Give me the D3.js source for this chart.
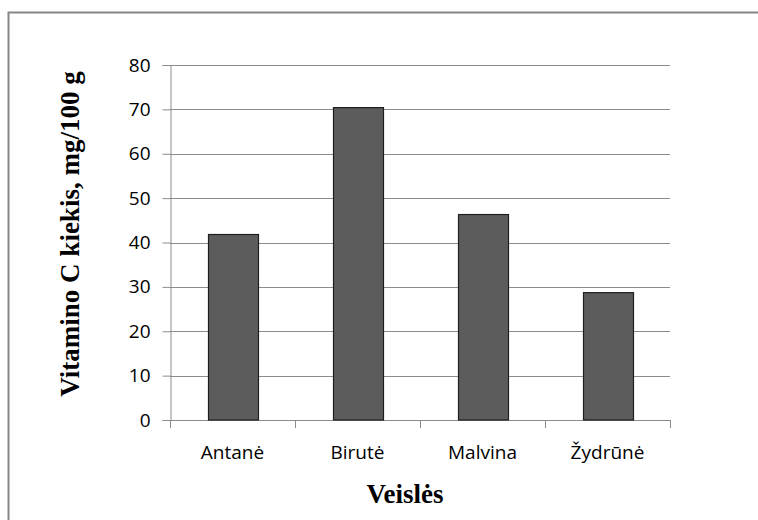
<!DOCTYPE html>
<html>
<head>
<meta charset="utf-8">
<script src="https://cdn.jsdelivr.net/npm/d3@7"></script>
<style>
  html, body { margin: 0; padding: 0; background: #fff; overflow: hidden; }
  svg { display: block; }
</style>
</head>
<body>
<svg id="chart" width="758" height="520"></svg>
<script>
// Vitamin C content by variety
const categories = ["Antanė", "Birutė", "Malvina", "Žydrūnė"];
const values = [41.8, 70.4, 46.3, 28.7];
const yTicks = [0, 10, 20, 30, 40, 50, 60, 70, 80];
const yTitle = "Vitamino C kiekis, mg/100 g";
const xTitle = "Veislės";

const svg = d3.select("#chart");
const margin = { left: 170, right: 88, top: 65, bottom: 100 };
const W = 758, H = 520;
const plotW = W - margin.left - margin.right;
const plotH = H - margin.top - margin.bottom;
const labelFont = "'Open Sans', sans-serif";
const titleFont = "'Liberation Serif', 'Times New Roman', serif";

// outer frame (runs past the right and bottom edges)
svg.append("rect")
  .attr("x", 8.5).attr("y", 12.5)
  .attr("width", 900).attr("height", 700)
  .attr("fill", "#fff").attr("stroke", "#868686").attr("stroke-width", 2);

const g = svg.append("g").attr("transform", `translate(${margin.left},${margin.top})`);

const x = d3.scaleBand().domain(categories).range([0, plotW]).paddingInner(0.6).paddingOuter(0.3);
const xBand = d3.scaleBand().domain(categories).range([0, plotW]);
const y = d3.scaleLinear().domain([0, 80]).range([plotH, 0]);

// gridlines
g.append("g").selectAll("line").data(yTicks.filter(d => d > 0)).join("line")
  .attr("x1", 0).attr("x2", plotW)
  .attr("y1", d => Math.round(y(d)) + 0.5).attr("y2", d => Math.round(y(d)) + 0.5)
  .attr("stroke", "#8c8c8c").attr("stroke-width", 1);

// y axis
const yAxis = g.append("g").attr("transform", "translate(0.5,0)")
  .call(d3.axisLeft(y).tickValues(yTicks).tickSize(8).tickPadding(12));
yAxis.select(".domain").attr("stroke", "#8c8c8c");
yAxis.selectAll(".tick line").attr("stroke", "#8c8c8c");
yAxis.selectAll(".tick text")
  .attr("font-family", labelFont).attr("font-size", 19).attr("fill", "#000");

// x axis with boundary ticks between categories
const xAxisG = g.append("g").attr("transform", `translate(0,${plotH})`);
xAxisG.append("line").attr("x1", 0).attr("x2", plotW).attr("y1", 0.5).attr("y2", 0.5)
  .attr("stroke", "#8c8c8c");
const boundaries = categories.map(c => xBand(c)).concat([plotW]);
xAxisG.selectAll("line.b").data(boundaries).join("line").attr("class", "b")
  .attr("x1", d => Math.round(d) + 0.5).attr("x2", d => Math.round(d) + 0.5)
  .attr("y1", 0).attr("y2", 8).attr("stroke", "#8c8c8c");
xAxisG.selectAll("text").data(categories).join("text")
  .attr("x", d => xBand(d) + xBand.bandwidth() / 2)
  .attr("y", 39)
  .attr("text-anchor", "middle")
  .attr("font-family", labelFont).attr("font-size", 19).attr("fill", "#000")
  .text(d => d);

// bars
g.append("g").selectAll("rect").data(values).join("rect")
  .attr("x", (d, i) => Math.round(x(categories[i])) + 0.5)
  .attr("y", d => y(d))
  .attr("width", x.bandwidth())
  .attr("height", d => plotH - y(d))
  .attr("fill", "#5c5c5c").attr("stroke", "#1e1e1e").attr("stroke-width", 1.2);

// axis titles
svg.append("text")
  .attr("x", 405).attr("y", 503)
  .attr("text-anchor", "middle")
  .attr("font-family", titleFont)
  .attr("font-weight", "bold").attr("font-size", 27).attr("fill", "#000")
  .text(xTitle);

svg.append("text")
  .attr("transform", "translate(79,234) rotate(-90)")
  .attr("text-anchor", "middle")
  .attr("font-family", titleFont)
  .attr("font-weight", "bold").attr("font-size", 27).attr("fill", "#000")
  .text(yTitle);
</script>
</body>
</html>
